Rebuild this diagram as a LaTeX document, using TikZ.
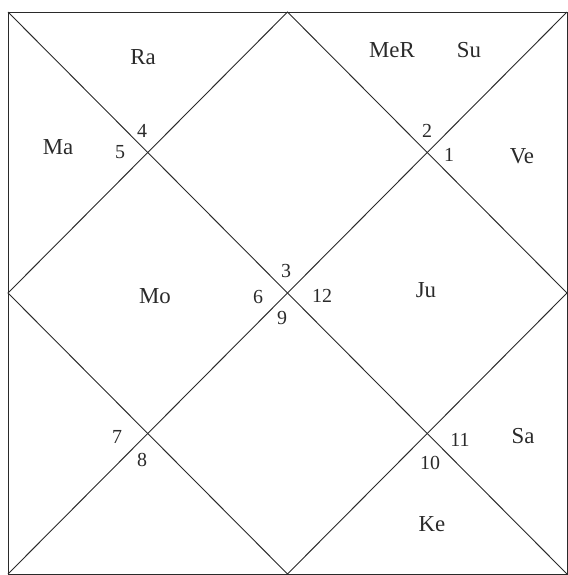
\documentclass[tikz,border=0pt]{standalone}
\usepackage{fontspec}
\setmainfont{Liberation Serif}
\usepackage{tikz}
\usetikzlibrary{positioning}
\definecolor{ink}{HTML}{2A2A2A}
\tikzset{house/.style={draw=ink,line width=0.8pt},lbl/.style={text=ink,font=\fontsize{19.5}{23}\selectfont,inner sep=0pt},num/.style={lbl,font=\fontsize{17}{20}\selectfont}}
\begin{document}
\begin{tikzpicture}[x=0.03cm,y=-0.03cm]
\useasboundingbox (0,0) rectangle (568,575);
\coordinate (tl) at (8,12);\coordinate (tr) at (567,12);
\coordinate (bl) at (8,574);\coordinate (br) at (567,574);
\coordinate (tm) at (287.5,12);\coordinate (bm) at (287.5,574);
\coordinate (lm) at (8,293);\coordinate (rm) at (567,293);
\draw[house] (tl) rectangle (br);
\draw[house] (tl)--(br);\draw[house] (tr)--(bl);
\draw[house] (tm)--(rm)--(bm)--(lm)--cycle;
% planets
\node[lbl] (ra) at (143,57) {Ra};
\node[lbl] (mer) at (392,50) {MeR};
\node[lbl] (su) at (469,50) {Su};
\node[lbl] (ma) at (58,147) {Ma};
\node[lbl] (ve) at (522,156) {Ve};
\node[lbl] (mo) at (155,296) {Mo};
\node[lbl] (ju) at (426,290) {Ju};
\node[lbl] (sa) at (523,436) {Sa};
\node[lbl] (ke) at (432,524) {Ke};
% house numbers
\node[num] (h4) at (142,131) {4};
\node[num] (h5) at (120,152) {5};
\node[num] (h2) at (427,131) {2};
\node[num] (h1) at (449,155) {1};
\node[num] (h3) at (286,271) {3};
\node[num] (h6) at (258,297) {6};
\node[num] (h12) at (322,296) {12};
\node[num] (h9) at (282,318) {9};
\node[num] (h7) at (117,437) {7};
\node[num] (h8) at (142,460) {8};
\node[num] (h11) at (460,440) {11};
\node[num] (h10) at (430,463) {10};
\end{tikzpicture}
\end{document}
